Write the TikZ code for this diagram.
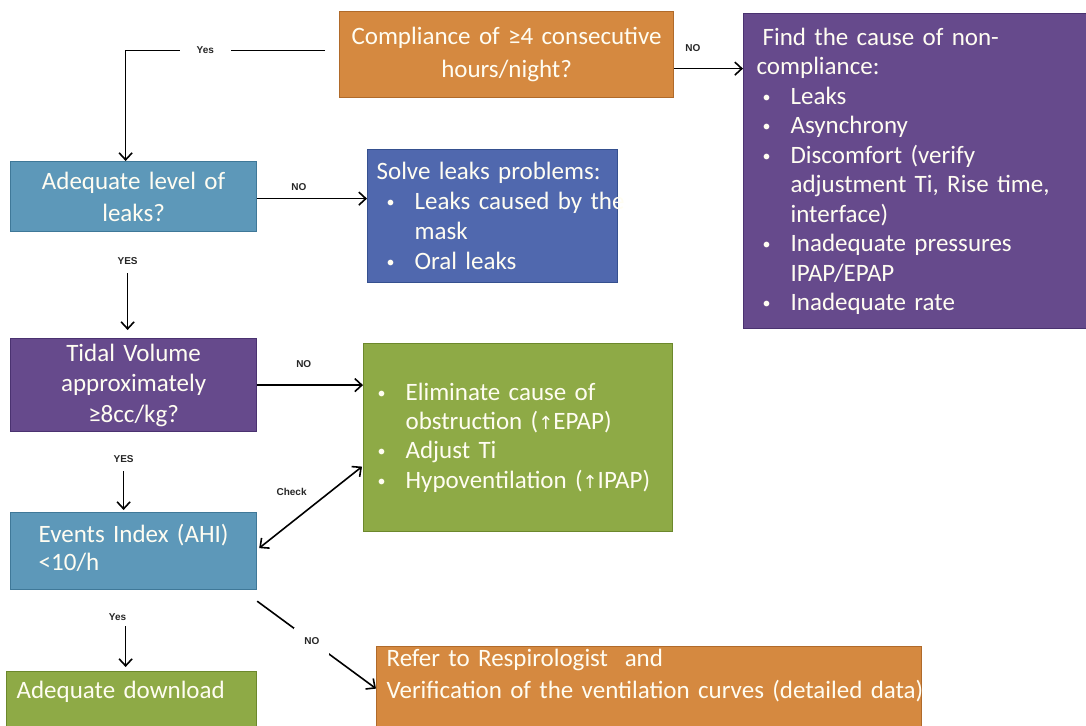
\documentclass[tikz,border=0pt]{standalone}
\usepackage{fontspec}
\setmainfont{Carlito}[WordSpace=0.55]
\newfontfamily\lblfont{Liberation Sans}
\newfontfamily\dvs{DejaVu Sans}
\usetikzlibrary{arrows.meta,calc}

\definecolor{orgF}{HTML}{D58940}
\definecolor{orgD}{HTML}{B06A2A}
\definecolor{purF}{HTML}{664A8C}
\definecolor{purD}{HTML}{4A3270}
\definecolor{bluF}{HTML}{5D98B9}
\definecolor{bluD}{HTML}{3F7898}
\definecolor{dbF}{HTML}{5068AE}
\definecolor{dbD}{HTML}{35508F}
\definecolor{grnF}{HTML}{8EAA46}
\definecolor{grnD}{HTML}{6C882C}
\definecolor{txt}{HTML}{FFFDF2}

\newcommand{\bu}[1]{\hspace*{#1}\makebox[28pt][l]{\raisebox{2pt}{\fontsize{16}{16}\selectfont\textbullet}}}
\newcommand{\ind}[1]{\hspace*{#1}\hspace*{28pt}}

\begin{document}
\begin{tikzpicture}[x=1pt,y=-1pt,
 box/.style={draw, line width=1.2pt, anchor=north west, inner xsep=9pt, inner ysep=0pt, text=txt},
 fs/.style={font=\fontsize{25}{#1}\selectfont},
 arr/.style={line width=1.6pt, -{Straight Barb[length=7pt,width=13pt,line width=1.6pt]}},
 darr/.style={line width=1.6pt, {Straight Barb[length=7pt,width=13pt,line width=1.6pt]}-{Straight Barb[length=7pt,width=13pt,line width=1.6pt]}},
 lbl/.style={font=\lblfont\bfseries\fontsize{10}{12}\selectfont, text=black!85, inner sep=1pt},
]
\useasboundingbox (0,0) rectangle (1086,725);

% boxes
\node[box, fs=33, fill=orgF, draw=orgD, minimum height=86pt, text width=316pt, align=center] (comp) at (339,11)
  {Compliance of ≥4 consecutive\\hours/night?};
\node[box, fs=29.5, fill=purF, draw=purD, minimum height=315pt, inner xsep=13pt, text width=320pt, align=left] (find) at (743,13)
  {\hspace*{6pt}Find the cause of non-\\
   compliance:\\
   \bu{6pt}Leaks\\
   \bu{6pt}Asynchrony\\
   \bu{6pt}Discomfort (verify\\
   \ind{6pt}adjustment Ti, Rise time,\\
   \ind{6pt}interface)\\
   \bu{6pt}Inadequate pressures\\
   \ind{6pt}IPAP/EPAP\\
   \bu{6pt}Inadequate rate};
\node[box, fs=32, fill=bluF, draw=bluD, minimum height=70pt, text width=228pt, align=center] (leaks) at (10,161)
  {Adequate level of\\leaks?};
\node[box, fs=30, fill=dbF, draw=dbD, minimum height=133pt, text width=232pt, align=left] (solve) at (367,149)
  {Solve leaks problems:\\
   \bu{10pt}\mbox{Leaks caused by the}\\
   \ind{10pt}mask\\
   \bu{10pt}Oral leaks};
\node[box, fs=30.5, fill=purF, draw=purD, minimum height=93pt, text width=228pt, align=center] (tidal) at (10,338)
  {Tidal Volume\\approximately\\≥8cc/kg?};
\node[box, fs=29.3, fill=grnF, draw=grnD, minimum height=188pt, inner xsep=10pt, text width=289pt, align=left] (green) at (363,343)
  {\bu{4pt}Eliminate cause of\\
   \ind{4pt}obstruction ({\dvs\fontsize{18}{20}\selectfont ↑}EPAP)\\
   \bu{4pt}Adjust Ti\\
   \bu{4pt}Hypoventilation ({\dvs\fontsize{18}{20}\selectfont ↑}IPAP)};
\node[box, fs=28, fill=bluF, draw=bluD, minimum height=77pt, text width=228pt, align=center] (events) at (10,512)
  {\begin{tabular}{@{}l@{}}Events Index (AHI)\\<10/h\end{tabular}};
\node[box, fs=30, fill=grnF, draw=grnD, minimum height=76pt, inner xsep=10pt, text width=230pt, align=left] (adeq) at (6,671)
  {Adequate download\\ \strut};
\node[box, fs=32, fill=orgF, draw=orgD, minimum height=96pt, inner xsep=10pt, text width=525pt, align=left] (refer) at (376,646)
  {Refer to Respirologist\ \ and\\\mbox{Verification of the ventilation curves (detailed data)}\\ \strut};

% connectors
\coordinate (ys) at ([xshift=-14pt,yshift=4pt]comp.west);
\coordinate (ye) at ([xshift=-8pt]leaks.north);
\draw[arr] (ys) -- node[lbl, pos=0.6, fill=white, inner xsep=17pt, inner ysep=4pt]{Yes} (ys -| ye) -- (ye);

\draw[arr] ([yshift=-14pt]comp.east) -- node[lbl, above=15pt, pos=0.27]{NO} ([yshift=-14pt]comp.east -| find.west);

\draw[arr] ([yshift=-2pt]leaks.east) -- node[lbl, above=6pt, pos=0.38]{NO} ([yshift=-2pt]leaks.east -| solve.west);

\draw[arr] ([xshift=-6pt,yshift=-41pt]leaks.south) node[lbl, above=7pt]{YES} -- ([xshift=-6pt,yshift=8pt]tidal.north);

\draw[arr] (tidal.east) -- node[lbl, above=16pt, pos=0.44]{NO} (tidal.east -| green.west);

\draw[arr] ([xshift=-10pt,yshift=-39pt]tidal.south) node[lbl, above=7pt]{YES} -- ([xshift=-10pt,yshift=2pt]events.north);

\draw[darr] ([xshift=2pt,yshift=3pt]events.east) -- node[lbl, pos=0.5, xshift=-19pt, yshift=15pt]{Check} ([xshift=-1pt,yshift=-29pt]green.west);

\draw[arr] ([yshift=-11pt]events.south east) -- node[lbl, pos=0.46, fill=white, inner xsep=10pt, inner ysep=10pt]{NO} ([yshift=6pt]refer.west);

\draw[arr] ([xshift=-8pt,yshift=-36pt]events.south) node[lbl, above=4pt, xshift=-8pt]{Yes} -- ([xshift=-6pt,yshift=4pt]adeq.north);
\end{tikzpicture}
\end{document}
